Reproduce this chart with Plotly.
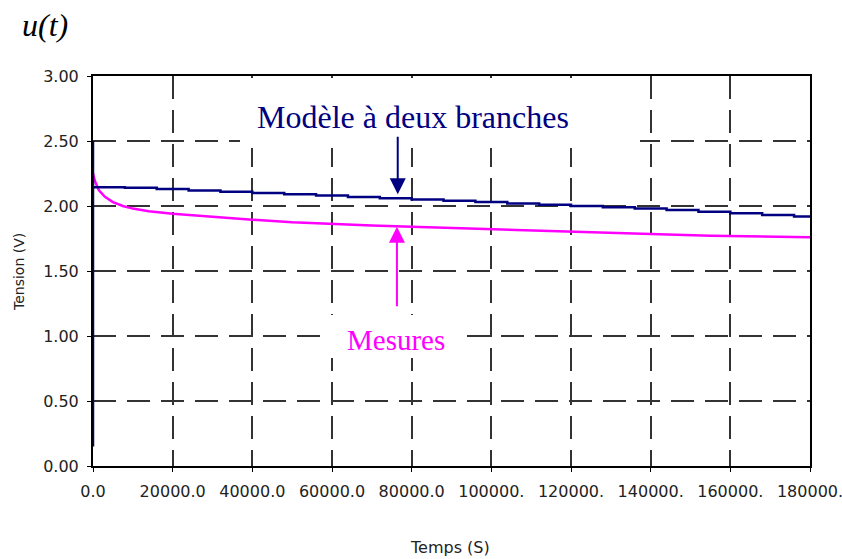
import plotly.graph_objects as go

# Model (two-branch) response: charging spike at t=0 then slow stepped decay
model_t = [0, 0, 0, 8000, 16000, 24000, 32000, 40000, 48000, 56000, 64000, 72000,
           80000, 88000, 96000, 104000, 112000, 120000, 128000, 136000, 144000,
           152000, 160000, 168000, 176000, 180000]
model_u = [0.15, 2.50, 2.145, 2.14, 2.13, 2.12, 2.11, 2.10, 2.09, 2.08, 2.07, 2.06,
           2.05, 2.04, 2.03, 2.02, 2.01, 2.00, 1.99, 1.98, 1.97,
           1.955, 1.945, 1.93, 1.92, 1.91]

# Measured voltage
meas_t = [0, 500, 1500, 3000, 5000, 7500, 10000, 14000, 20000, 30000, 40000, 50000,
          60000, 70000, 80000, 90000, 100000, 110000, 120000, 130000, 140000,
          155000, 170000, 180000]
meas_u = [2.25, 2.19, 2.12, 2.07, 2.03, 2.00, 1.98, 1.96, 1.94, 1.915, 1.895, 1.875,
          1.86, 1.85, 1.84, 1.83, 1.82, 1.81, 1.80, 1.795, 1.785,
          1.772, 1.762, 1.76]

x_ticks = [0, 20000, 40000, 60000, 80000, 100000, 120000, 140000, 160000, 180000]
x_labels = ["0.0", "20000.0", "40000.0", "60000.0", "80000.0", "100000.",
            "120000.", "140000.", "160000.", "180000."]
y_ticks = [0, 0.5, 1.0, 1.5, 2.0, 2.5, 3.0]
y_labels = ["0.00", "0.50", "1.00", "1.50", "2.00", "2.50", "3.00"]

NAVY = "#000080"
MAGENTA = "#FF00FF"
SANS = "DejaVu Sans"
SERIF = "Liberation Serif, Times New Roman"

# plot area in pixels
L, R, T, B = 93, 810, 76, 466
W, H = R - L, B - T


def px(x):
    return (x - L) / W


def py(y):
    return (B - y) / H


fig = go.Figure()
fig.add_trace(go.Scatter(x=meas_t, y=meas_u, mode="lines",
                         line=dict(color=MAGENTA, width=2.5), showlegend=False))
fig.add_trace(go.Scatter(x=model_t, y=model_u, mode="lines", line_shape="hv",
                         line=dict(color=NAVY, width=2.5), showlegend=False))

tick_font = dict(family=SANS, size=16, color="#222")
axis_style = dict(showgrid=True, gridcolor="#333", gridwidth=2, griddash="23px,11px",
                  showline=True, linecolor="black", linewidth=2, mirror=True,
                  ticks="outside", ticklen=4, tickcolor="black", zeroline=False,
                  tickfont=tick_font, automargin=False, ticklabeloverflow="allow")

fig.update_xaxes(range=[0, 180000], tickvals=x_ticks, ticktext=x_labels,
                 ticklabelstandoff=6, **axis_style)
fig.update_yaxes(range=[0, 3], tickvals=y_ticks, ticktext=y_labels,
                 ticklabelstandoff=5, **axis_style)

# White label backgrounds hiding the grid behind the callouts
fig.add_shape(type="rect", xref="paper", yref="paper",
              x0=px(240), x1=px(640), y0=py(148), y1=py(78),
              fillcolor="white", line_width=0, layer="above")
fig.add_shape(type="rect", xref="paper", yref="paper",
              x0=px(330), x1=px(464), y0=py(358), y1=py(315),
              fillcolor="white", line_width=0, layer="above")

fig.add_annotation(text="Modèle à deux branches", xref="paper", yref="paper",
                   x=px(413), y=py(117), xanchor="center", yanchor="middle",
                   showarrow=False, font=dict(family=SERIF, size=32, color=NAVY))
fig.add_annotation(text="Mesures", xref="paper", yref="paper",
                   x=px(396), y=py(340), xanchor="center", yanchor="middle",
                   showarrow=False, font=dict(family=SERIF, size=29, color=MAGENTA))

# Callout arrows
fig.add_annotation(x=76500, y=2.09, text="", showarrow=True, ax=0, ay=-59,
                   arrowhead=2, arrowsize=1.6, arrowwidth=2, arrowcolor=NAVY)
fig.add_annotation(x=76300, y=1.84, text="", showarrow=True, ax=0, ay=81,
                   arrowhead=2, arrowsize=1.6, arrowwidth=2, arrowcolor=MAGENTA)

fig.add_annotation(text="u(t)", xref="paper", yref="paper",
                   x=px(45), y=py(25), xanchor="center", yanchor="middle",
                   showarrow=False,
                   font=dict(family=SERIF, size=32, style="italic", color="black"))
fig.add_annotation(text="Tension (V)", xref="paper", yref="paper", textangle=-90,
                   x=px(19), y=py(272), xanchor="center", yanchor="middle",
                   showarrow=False, font=dict(family=SANS, size=14, color="#222"))
fig.add_annotation(text="Temps (S)", xref="paper", yref="paper",
                   x=px(450), y=py(547), xanchor="center", yanchor="middle",
                   showarrow=False, font=dict(family=SANS, size=16, color="#222"))

fig.update_layout(width=842, height=559,
                  margin=dict(l=L, r=842 - R, t=T, b=559 - B),
                  plot_bgcolor="white", paper_bgcolor="white")

fig.write_html("out.html")
